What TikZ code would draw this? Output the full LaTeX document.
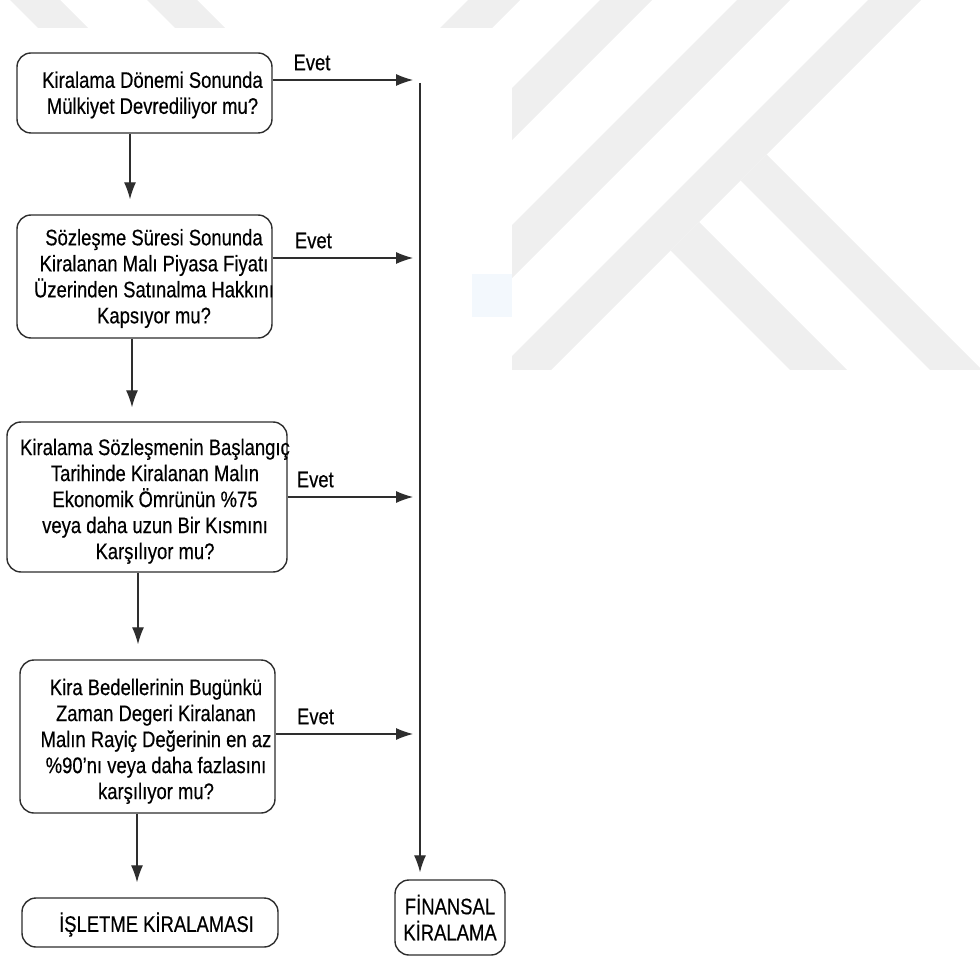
\documentclass[tikz,border=0pt]{standalone}
\usepackage{fontspec}
\setmainfont[FakeStretch=0.82,FakeBold=0.4]{Liberation Sans}
\usepackage{xcolor}
\definecolor{wmGray}{HTML}{EFEFEF}
\definecolor{spotBlue}{HTML}{F3F8FD}
\definecolor{inkGray}{HTML}{2E2E2E}
\usetikzlibrary{arrows.meta}
\tikzset{
  qBox/.style={draw=inkGray, line width=1.4pt, rounded corners=14pt, inner sep=0pt},
  qText/.style={align=center, inner sep=0pt, font=\fontsize{22.5}{26}\selectfont},
  flowArrow/.style={draw=inkGray, line width=1.1pt, -{Latex[length=17pt,width=12pt]}},
  yesLbl/.style={inner sep=0pt, font=\fontsize{22.5}{26}\selectfont, above=9pt},
}

\begin{document}
\begin{tikzpicture}[x=1pt, y=-1pt]
  \useasboundingbox (0,0) rectangle (980,957);
  % watermark
  \fill[wmGray] (468,0) -- (520,0) -- (150,370) -- (98,370) -- cycle;
  \fill[wmGray] (600,0) -- (652,0) -- (282,370) -- (230,370) -- cycle;
  \fill[wmGray] (737,0) -- (790,0) -- (420,370) -- (367,370) -- cycle;
  \fill[wmGray] (868,0) -- (921,0) -- (551,370) -- (498,370) -- cycle;
  \fill[wmGray] (766.5,154.5) -- (982,370) -- (930,370) -- (740.5,180.5) -- cycle;
  \fill[wmGray] (699,222) -- (847,370) -- (790,370) -- (670.5,250.5) -- cycle;
  \fill[wmGray] (10,0) -- (60,0) -- (100,40) -- (50,40) -- cycle;
  \fill[wmGray] (147,0) -- (197,0) -- (237,40) -- (187,40) -- cycle;
  \fill[white] (0,28) rectangle (512,957);
  \fill[spotBlue] (472,274) rectangle (512,317);

  \node[qBox, minimum width=255pt, minimum height=80pt] (q1) at (144.5,93) {};
  \node[qText] (q1t) at ([shift={(8,2)}]q1.center) {Kiralama Dönemi Sonunda\\Mülkiyet Devrediliyor mu?};
  \node[qBox, minimum width=255pt, minimum height=123pt] (q2) at (144.5,276.5) {};
  \node[qText] (q2t) at ([shift={(9.5,2)}]q2.center) {Sözleşme Süresi Sonunda\\Kiralanan Malı Piyasa Fiyatı\\Üzerinden Satınalma Hakkını\\Kapsıyor mu?};
  \node[qBox, minimum width=280pt, minimum height=150pt] (q3) at (147,497) {};
  \node[qText] (q3t) at ([shift={(8,4.3)}]q3.center) {Kiralama Sözleşmenin Başlangıç\\Tarihinde Kiralanan Malın\\Ekonomik Ömrünün \%75\\veya daha uzun Bir Kısmını\\Karşılıyor mu?};
  \node[qBox, minimum width=255pt, minimum height=153pt] (q4) at (147.5,736.5) {};
  \node[qText] (q4t) at ([shift={(8.5,4.8)}]q4.center) {Kira Bedellerinin Bugünkü\\Zaman Degeri Kiralanan\\Malın Rayiç Değerinin en az\\\%90'nı veya daha fazlasını\\karşılıyor mu?};
  \node[qBox, minimum width=256pt, minimum height=49pt] (isl) at (150,922.5) {};
  \node[qText] (islt) at ([shift={(6.5,2)}]isl.center) {İŞLETME KİRALAMASI};
  \node[qBox, minimum width=110pt, minimum height=75pt] (fin) at (450,917.5) {};
  \node[qText] (fint) at (fin.center) {FİNANSAL\\KİRALAMA};

  \coordinate (e1) at (413,80);
  \coordinate (e2) at (413,258);
  \coordinate (e3) at (413,497);
  \coordinate (e4) at (413,734);
  \coordinate (trunk) at (420,83);
  \coordinate (d1) at (130,0);
  \coordinate (d2) at (132,0);
  \coordinate (d3) at (138,0);
  \coordinate (d4) at (137,0);

  \draw[flowArrow] (q1.east |- e1) -- node[yesLbl, pos=0.28] {Evet} (e1);
  \draw[flowArrow] (q2.east |- e2) -- node[yesLbl, pos=0.29] {Evet} (e2);
  \draw[flowArrow] (q3.east |- e3) -- node[yesLbl, pos=0.22] {Evet} (e3);
  \draw[flowArrow] (q4.east |- e4) -- node[yesLbl, pos=0.29] {Evet} (e4);
  \draw[flowArrow, shorten >=7pt] (trunk) -- (trunk |- fin.north);

  \draw[flowArrow, shorten >=15pt] (q1.south -| d1) -- (q2.north -| d1);
  \draw[flowArrow, shorten >=14pt] (q2.south -| d2) -- (q3.north -| d2);
  \draw[flowArrow, shorten >=15pt] (q3.south -| d3) -- (q4.north -| d3);
  \draw[flowArrow, shorten >=15pt] (q4.south -| d4) -- (isl.north -| d4);
\end{tikzpicture}
\end{document}
